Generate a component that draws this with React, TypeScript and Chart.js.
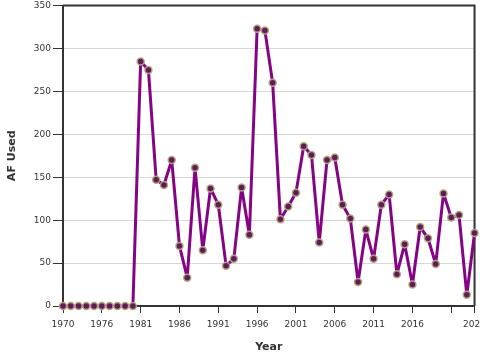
import React, { useEffect, useRef } from "react";
import { Chart, registerables } from "chart.js";

Chart.register(...registerables);

const years: string[] = [
  "1970", "1971", "1972", "1973", "1974",
  "1976", "1977", "1978", "1979", "1980",
  "1981", "1982", "1983", "1984", "1985", "1986", "1987", "1988", "1989", "1990",
  "1991", "1992", "1993", "1994", "1995", "1996", "1997", "1998", "1999", "2000",
  "2001", "2002", "2003", "2004", "2005", "2006", "2007", "2008", "2009", "2010",
  "2011", "2012", "2013", "2014", "2015", "2016", "2017", "2018", "2019", "2020",
  "2021", "2022", "2023", "2024",
];

const afUsed: number[] = [
  0, 0, 0, 0, 0, 0, 0, 0, 0, 0,
  285, 275, 147, 141, 170, 70, 33, 161, 65, 137,
  118, 47, 55, 138, 83, 323, 321, 260, 101, 116,
  132, 186, 176, 74, 170, 173, 118, 102, 28, 89,
  55, 118, 130, 37, 72, 25, 92, 79, 49, 131,
  103, 106, 13, 85,
];

const yTicks = { min: 0, max: 350, step: 50 };
const xLabelEvery = 5;
const xHiddenLabel = "2021";

const FONT = "'DejaVu Sans', sans-serif";

const boxPlugin = {
  id: "boxBorder",
  beforeDatasetsDraw(chart: any) {
    const { ctx, chartArea } = chart;
    ctx.save();
    ctx.strokeStyle = "#333";
    ctx.lineWidth = 2;
    ctx.beginPath();
    ctx.moveTo(chartArea.left, chartArea.top);
    ctx.lineTo(chartArea.right, chartArea.top);
    ctx.lineTo(chartArea.right, chartArea.bottom);
    ctx.stroke();
    ctx.restore();
  },
};

export default function App() {
  const ref = useRef<HTMLCanvasElement | null>(null);

  useEffect(() => {
    if (!ref.current) return;
    const last = years.length - 1;
    const showTick = (i: number) => i % xLabelEvery === 0 || i === last;
    const chart = new Chart(ref.current, {
      type: "line",
      data: {
        labels: years,
        datasets: [
          {
            label: "AF Used",
            data: afUsed,
            borderColor: "#840484",
            borderWidth: 3,
            borderJoinStyle: "round",
            borderCapStyle: "round",
            tension: 0,
            pointRadius: 3.5,
            pointBorderWidth: 1.5,
            pointBackgroundColor: "#621a58",
            pointBorderColor: "rgba(176,166,128,0.95)",
            clip: false as any,
          },
        ],
      },
      options: {
        animation: false,
        responsive: false,
        layout: { padding: 0 },
        plugins: {
          legend: { display: false },
          tooltip: { enabled: false },
        },
        scales: {
          x: {
            type: "category",
            offset: false,
            afterFit: (s: any) => {
              s.height = 54;
            },
            border: { display: true, color: "#333", width: 2 },
            grid: {
              drawOnChartArea: false,
              drawTicks: true,
              tickLength: 7,
              tickColor: (c: any) => (showTick(c.index) ? "#333" : "rgba(0,0,0,0)"),
            },
            ticks: {
              autoSkip: false,
              maxRotation: 0,
              minRotation: 0,
              padding: 6,
              color: "#333",
              font: { family: FONT, size: 9 },
              callback: (_v: any, i: number) => {
                if (!showTick(i)) return "";
                if (years[i] === xHiddenLabel) return "";
                return years[i];
              },
            },
            title: {
              display: true,
              text: "Year",
              color: "#333",
              font: { family: FONT, size: 11, weight: "bold" },
              padding: { top: 0, bottom: 6 },
            },
          },
          y: {
            min: yTicks.min,
            max: yTicks.max,
            afterFit: (s: any) => {
              s.width = 63;
            },
            border: { display: true, color: "#333", width: 2 },
            grid: {
              color: "#d8d8d8",
              lineWidth: 1,
              tickLength: 10,
              tickColor: "#333",
            },
            ticks: {
              stepSize: yTicks.step,
              padding: 2,
              color: "#333",
              font: { family: FONT, size: 9, lineHeight: 0.8 },
            },
            title: {
              display: true,
              text: "AF Used",
              color: "#333",
              font: { family: FONT, size: 11, weight: "bold" },
              padding: { top: 6, bottom: 0 },
            },
          },
        },
      },
      plugins: [boxPlugin],
    });
    return () => chart.destroy();
  }, []);

  return (
    <div
      style={{
        position: "fixed",
        left: 0,
        top: 0,
        width: 480,
        height: 360,
        overflow: "hidden",
        background: "#fff",
      }}
    >
      <canvas ref={ref} width={492} height={360} style={{ display: "block" }} />
    </div>
  );
}
